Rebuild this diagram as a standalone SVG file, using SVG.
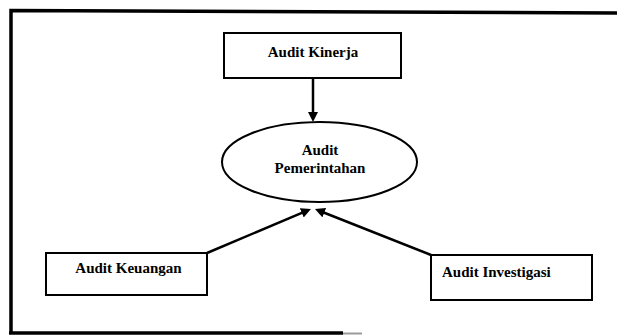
<svg xmlns="http://www.w3.org/2000/svg" width="617" height="335" viewBox="0 0 617 335">
<style>
.box{fill:#fff;stroke:#000;stroke-width:2}
.lbl{font-family:"Liberation Serif","Times New Roman",serif;font-weight:bold;font-size:15px;fill:#000}
.frame{fill:none;stroke:#000;stroke-width:3.5}
.conn{stroke:#000;stroke-width:2.5;fill:none}
</style>
<defs>
<marker id="ah" viewBox="0 0 10 10" refX="2" refY="5" markerWidth="10" markerHeight="10" markerUnits="userSpaceOnUse" orient="auto">
<path d="M0,0 L10,5 L0,10 z" fill="#000"/>
</marker>
</defs>
<rect width="617" height="335" fill="#fff"/>
<g id="frame">
<path class="frame" d="M11,333 V10.5 L617,13"/>
<path class="frame" d="M9,333 H343"/>
<path d="M343,333.5 H362" stroke="#9a9a9a" stroke-width="2" fill="none"/>
</g>
<g id="connectors">
<line class="conn" x1="313" y1="78" x2="313" y2="114" marker-end="url(#ah)"/>
<line class="conn" x1="207" y1="253" x2="303.6" y2="212.1" marker-end="url(#ah)"/>
<line class="conn" x1="431" y1="255" x2="322.4" y2="212" marker-end="url(#ah)"/>
</g>
<g id="audit-kinerja">
<rect class="box" x="224" y="33" width="177" height="45"/>
<text class="lbl" x="313" y="57" text-anchor="middle">Audit Kinerja</text>
</g>
<g id="audit-pemerintahan">
<ellipse cx="319.5" cy="162" rx="97.5" ry="40" fill="#fff" stroke="#000" stroke-width="2"/>
<text class="lbl" x="320" y="155" text-anchor="middle">Audit</text>
<text class="lbl" x="320" y="173" text-anchor="middle">Pemerintahan</text>
</g>
<g id="audit-keuangan">
<rect class="box" x="46" y="253" width="161" height="42"/>
<text class="lbl" x="128.5" y="273" text-anchor="middle">Audit Keuangan</text>
</g>
<g id="audit-investigasi">
<rect class="box" x="431" y="255" width="161" height="45"/>
<text class="lbl" x="442" y="277">Audit Investigasi</text>
</g>
</svg>
